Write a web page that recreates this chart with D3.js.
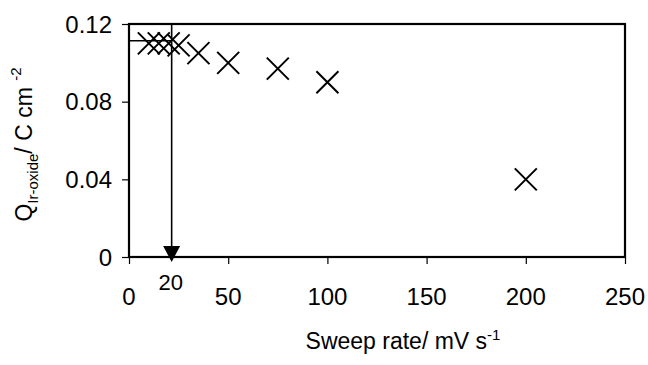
<!DOCTYPE html>
<html>
<head>
<meta charset="utf-8">
<script src="https://cdn.jsdelivr.net/npm/d3@7"></script>
<style>
    body { margin: 0; background: #fff; }
    text { font-family: Arial, "Liberation Sans", sans-serif; fill: #000; }
</style>
</head>
<body>
<div id="chart"></div>
<script>
    "use strict";

    // data
    let sweepRates = [10, 15, 20, 25, 35, 50, 75, 100, 200];
    let charges = [0.110, 0.110, 0.110, 0.109, 0.105, 0.100, 0.097, 0.090, 0.040];
    let xTicks = [0, 50, 100, 150, 200, 250];
    let yTicks = [0, 0.04, 0.08, 0.12];
    let yTickLabels = ["0", "0.04", "0.08", "0.12"];

    // marker line: chosen sweep rate and its charge
    let markRate = 21.5;
    let markLabel = "20";
    let markCharge = 0.1114;

    // chart size and margin settings
    let margin = { top: 24, right: 23, bottom: 108, left: 129 };
    let totalWidth = 648, totalHeight = 365;
    let width = totalWidth - margin.left - margin.right;
    let height = totalHeight - margin.top - margin.bottom;

    let xScale = d3.scaleLinear().domain([0, 250]).range([0, width]);
    let yScale = d3.scaleLinear().domain([0, 0.12]).range([height, 0]);

    let svg = d3.select("#chart").append("svg")
        .attr("width", totalWidth)
        .attr("height", totalHeight)
        .append("g")
        .attr("transform", "translate(" + margin.left + "," + margin.top + ")");

    // axes (ticks only, labels drawn separately)
    let xAxis = d3.axisBottom(xScale).tickValues(xTicks).tickSizeInner(7).tickSizeOuter(0).tickFormat("");
    let yAxis = d3.axisLeft(yScale).tickValues(yTicks).tickSizeInner(7).tickSizeOuter(0).tickFormat("");

    let gx = svg.append("g").attr("transform", "translate(0," + height + ")").call(xAxis);
    let gy = svg.append("g").call(yAxis);
    [gx, gy].forEach(g => {
        g.select(".domain").remove();
        g.selectAll("line").attr("stroke", "#000").attr("stroke-width", 1.2);
    });

    // tick labels
    svg.selectAll(".xlabel")
        .data(xTicks)
        .enter()
        .append("text")
        .attr("class", "xlabel")
        .attr("x", d => xScale(d))
        .attr("y", height + 48)
        .attr("text-anchor", "middle")
        .style("font-size", "24px")
        .text(d => d);

    svg.selectAll(".ylabel")
        .data(yTicks)
        .enter()
        .append("text")
        .attr("class", "ylabel")
        .attr("x", -17)
        .attr("y", d => yScale(d))
        .attr("dy", "0.36em")
        .attr("text-anchor", "end")
        .style("font-size", "24px")
        .text((d, i) => yTickLabels[i]);

    // frame
    svg.append("rect")
        .attr("x", 0)
        .attr("y", 0)
        .attr("width", width)
        .attr("height", height)
        .attr("fill", "none")
        .attr("stroke", "#000")
        .attr("stroke-width", 2.2);

    // marker lines
    svg.append("line")
        .attr("x1", xScale(0))
        .attr("x2", xScale(markRate))
        .attr("y1", yScale(markCharge))
        .attr("y2", yScale(markCharge))
        .attr("stroke", "#000")
        .attr("stroke-width", 1.6);

    svg.append("line")
        .attr("x1", xScale(markRate))
        .attr("x2", xScale(markRate))
        .attr("y1", yScale(0.12))
        .attr("y2", yScale(0) - 8)
        .attr("stroke", "#000")
        .attr("stroke-width", 1.6);

    let ax = xScale(markRate), ay = yScale(0) + 5;
    svg.append("path")
        .attr("d", "M" + (ax - 8.5) + "," + (ay - 16) + "L" + (ax + 8.5) + "," + (ay - 16) + "L" + ax + "," + ay + "Z")
        .attr("fill", "#000");

    svg.append("text")
        .attr("x", ax - 1)
        .attr("y", height + 33)
        .attr("text-anchor", "middle")
        .style("font-size", "22px")
        .text(markLabel);

    // cross markers
    let r = 11;
    svg.selectAll(".dot")
        .data(sweepRates)
        .enter()
        .append("path")
        .attr("class", "dot")
        .attr("d", (d, i) => {
            let cx = xScale(d), cy = yScale(charges[i]);
            return "M" + (cx - r) + "," + (cy - r) + "L" + (cx + r) + "," + (cy + r) +
                "M" + (cx - r) + "," + (cy + r) + "L" + (cx + r) + "," + (cy - r);
        })
        .attr("stroke", "#000")
        .attr("stroke-width", 2)
        .attr("fill", "none");

    // x title
    let xt = svg.append("text")
        .attr("x", 274)
        .attr("y", height + 92)
        .attr("text-anchor", "middle")
        .style("font-size", "23px");
    xt.append("tspan").text("Sweep rate/ mV s");
    xt.append("tspan").attr("dy", -9).style("font-size", "15px").text("-1");

    // y title
    let yt = svg.append("text")
        .attr("transform", "translate(" + (-97) + "," + (height / 2 + 4) + ") rotate(-90)")
        .attr("text-anchor", "middle")
        .style("font-size", "23px");
    yt.append("tspan").text("Q");
    yt.append("tspan").attr("dy", 6).style("font-size", "15px").text("Ir-oxide");
    yt.append("tspan").attr("dy", -6).text("/ C cm ");
    yt.append("tspan").attr("dy", -11).style("font-size", "15px").text(" -2");
</script>
</body>
</html>
